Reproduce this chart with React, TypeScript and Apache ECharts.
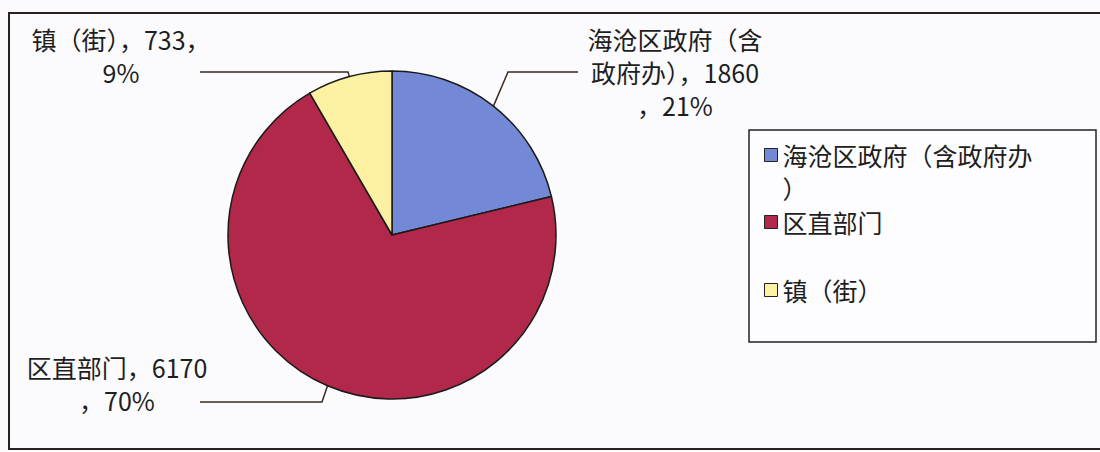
import React, { useEffect, useRef } from "react";
import * as echarts from "echarts";

const categories = ["海沧区政府（含政府办）", "区直部门", "镇（街）"];
const values = [1860, 6170, 733];
const shares = [21, 70, 9];
const colors = ["#7489D6", "#B2284A", "#FCF0A2"];

// wrap lengths (chars per line) for the pie labels and the legend items
const labelWraps = [[7, 9], [9], [9]];
const legendWraps = [[10], [], []];

function wrap(s: string, lens: number[]): string[] {
  const out: string[] = [];
  let rest = s;
  for (const n of lens) {
    if (rest.length <= n) break;
    out.push(rest.slice(0, n));
    rest = rest.slice(n);
  }
  out.push(rest);
  return out;
}

export default function App() {
  const ref = useRef<HTMLDivElement>(null);
  useEffect(() => {
    if (!ref.current) return;
    const chart = echarts.init(ref.current, null, { renderer: "svg" });
    const font = "'Noto Sans CJK SC', 'Noto Sans', sans-serif";

    const labelPos = [
      { x: 675, y: 72, line: [[508, 72], [578, 72]] },
      { x: 117, y: 383, line: [[322, 402], [200, 402]] },
      { x: 121, y: 55, line: [[348, 72], [200, 72]] },
    ];
    const legendLH = 33;
    const legendTops = [155 - 1.5 * legendLH, 222 - legendLH / 2, 290 - legendLH / 2];

    chart.setOption({
      animation: false,
      backgroundColor: "#fbfbfe",
      graphic: [
        {
          type: "rect",
          shape: { x: 9, y: 13, width: 1100, height: 436 },
          style: { fill: "none", stroke: "#2b2220", lineWidth: 2 },
          z: 0,
        },
        {
          type: "rect",
          shape: { x: 749, y: 130, width: 347, height: 212 },
          style: { fill: "#fdfdff", stroke: "#222", lineWidth: 1.5 },
          z: 0,
        },
      ],
      legend: categories.map((c, i) => ({
        data: [c],
        orient: "vertical",
        left: 764,
        top: legendTops[i],
        padding: 0,
        itemGap: 0,
        itemWidth: 13,
        itemHeight: 13,
        icon: "rect",
        selectedMode: false,
        itemStyle: { borderColor: "#222", borderWidth: 1 },
        formatter: (name: string) => {
          const idx = categories.indexOf(name);
          const lines = wrap(name, legendWraps[idx]);
          return lines.length > 1 ? "\n" + lines.join("\n") : lines[0];
        },
        textStyle: {
          fontSize: 25,
          lineHeight: legendLH,
          color: "#1e1e1e",
          fontFamily: font,
        },
      })),
      series: [
        {
          type: "pie",
          center: [392, 235],
          radius: 164,
          startAngle: 90,
          clockwise: true,
          avoidLabelOverlap: false,
          data: categories.map((c, i) => ({
            name: c,
            value: values[i],
            itemStyle: { color: colors[i] },
          })),
          itemStyle: { borderColor: "#1a1a1a", borderWidth: 1.5 },
          label: {
            show: true,
            position: "outside",
            formatter: (p: any) => {
              const i = p.dataIndex;
              const s = `${categories[i]}，${values[i]}，${shares[i]}%`;
              return wrap(s, labelWraps[i]).join("\n");
            },
            fontSize: 25,
            lineHeight: 33,
            color: "#1e1e1e",
            fontFamily: font,
            align: "center",
          },
          labelLine: {
            show: true,
            lineStyle: { color: "#3a2a22", width: 1.5 },
          },
          labelLayout: (params: any) => {
            const i = params.dataIndex;
            const lp = labelPos[i];
            const p0 = params.labelLinePoints ? params.labelLinePoints[0] : lp.line[0];
            return {
              x: lp.x,
              y: lp.y,
              align: "center",
              verticalAlign: "middle",
              labelLinePoints: [p0, lp.line[0], lp.line[1]],
            };
          },
          emphasis: { disabled: true },
        },
      ],
    });
    return () => chart.dispose();
  }, []);
  return (
    <div
      ref={ref}
      style={{ position: "fixed", left: 0, top: 0, width: 1100, height: 452 }}
    />
  );
}
